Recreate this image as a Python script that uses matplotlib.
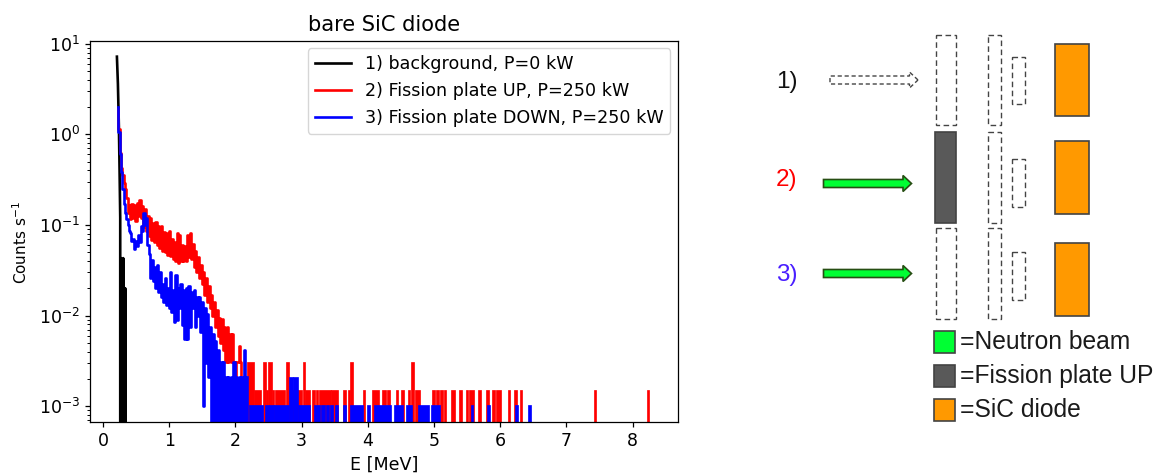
import matplotlib
matplotlib.use("Agg")
import matplotlib.pyplot as plt
from matplotlib.patches import FancyArrow, Rectangle

# Spectra
black_e = [0.21, 0.225, 0.24, 0.25, 0.26, 0.268, 0.272, 0.285, 0.29, 0.30, 0.305, 0.315, 0.32, 0.33, 0.335, 0.345, 0.35]
black_c = [7.2, 3.6, 1.2, 0.4, 0.12, 0, 0.043, 0, 0.04, 0, 0.043, 0, 0.02, 0, 0.02, 0, 0]

red_e = [0.22, 0.24, 0.26, 0.28, 0.30, 0.32, 0.34, 0.36, 0.38, 0.40, 0.42, 0.44, 0.46, 0.48, 0.50, 0.52,
         0.54, 0.56, 0.58, 0.60, 0.62, 0.64, 0.66, 0.68, 0.70, 0.72, 0.74, 0.76, 0.78, 0.80, 0.82, 0.84,
         0.86, 0.88, 0.90, 0.92, 0.94, 0.96, 0.98, 1.00, 1.02, 1.04, 1.06, 1.08, 1.10, 1.12, 1.14, 1.16,
         1.18, 1.20, 1.22, 1.24, 1.26, 1.28, 1.30, 1.32, 1.34, 1.36, 1.38, 1.40, 1.42, 1.44, 1.46, 1.48,
         1.50, 1.52, 1.54, 1.56, 1.58, 1.60, 1.62, 1.64, 1.66, 1.68, 1.70, 1.72, 1.74, 1.76, 1.78, 1.80,
         1.82, 1.84, 1.86, 1.88, 1.90, 1.92, 1.94, 1.96, 1.98, 2.00, 2.02, 2.04, 2.06, 2.08, 2.10, 2.14]
red_c = [1.9, 1.15, 0.62, 0.42, 0.36, 0.29, 0.25, 0.2, 0.135, 0.165, 0.115, 0.172, 0.118, 0.165, 0.11, 0.175,
         0.125, 0.188, 0.12, 0.16, 0.095, 0.15, 0.085, 0.125, 0.075, 0.118, 0.068, 0.105, 0.064, 0.108, 0.06, 0.098,
         0.056, 0.098, 0.052, 0.084, 0.05, 0.082, 0.046, 0.086, 0.045, 0.07, 0.042, 0.064, 0.04, 0.082, 0.038, 0.078,
         0.04, 0.06, 0.04, 0.058, 0.04, 0.078, 0.044, 0.082, 0.042, 0.062, 0.034, 0.052, 0.03, 0.044, 0.026, 0.036,
         0.022, 0.03, 0.017, 0.026, 0.014, 0.021, 0.012, 0.017, 0.01, 0.014, 0.0075, 0.0115, 0.006, 0.0095, 0.005, 0.0092,
         0.0042, 0.0075, 0.0031, 0.0075, 0.0031, 0.0063, 0.0031, 0.0063, 0.0031, 0.0015, 0.0031, 0.0031, 0.0046, 0.0031, 0.0015, 0.0015]

blue_e = [0.22, 0.24, 0.26, 0.28, 0.30, 0.32, 0.34, 0.36, 0.38, 0.40, 0.42, 0.44, 0.46, 0.48, 0.50, 0.52,
          0.54, 0.56, 0.58, 0.60, 0.62, 0.64, 0.66, 0.68, 0.70, 0.72, 0.74, 0.76, 0.78, 0.80, 0.82, 0.84,
          0.86, 0.88, 0.90, 0.92, 0.94, 0.96, 0.98, 1.00, 1.02, 1.04, 1.06, 1.08, 1.10, 1.12, 1.14, 1.16,
          1.18, 1.20, 1.22, 1.24, 1.26, 1.28, 1.30, 1.32, 1.34, 1.36, 1.38, 1.40, 1.42, 1.44, 1.46, 1.48,
          1.50, 1.52, 1.54, 1.56, 1.58, 1.60, 1.62, 1.64, 1.66, 1.68, 1.70, 1.72, 1.74, 1.76, 1.78, 1.80,
          1.82, 1.84, 1.86, 1.88, 1.90, 1.92, 1.94, 1.96, 1.98, 2.00, 2.02, 2.04, 2.06, 2.08, 2.10, 2.12,
          2.14, 2.16, 2.18]
blue_c = [2.0, 1.05, 0.6, 0.38, 0.25, 0.17, 0.135, 0.115, 0.1, 0.085, 0.082, 0.066, 0.07, 0.054, 0.066, 0.058,
          0.078, 0.065, 0.098, 0.085, 0.135, 0.1, 0.12, 0.06, 0.048, 0.026, 0.041, 0.024, 0.034, 0.02, 0.036, 0.018,
          0.03, 0.016, 0.022, 0.014, 0.026, 0.013, 0.02, 0.012, 0.03, 0.011, 0.019, 0.0085, 0.028, 0.009, 0.02, 0.012,
          0.022, 0.0078, 0.019, 0.0055, 0.02, 0.0055, 0.021, 0.0075, 0.018, 0.012, 0.019, 0.0075, 0.016, 0.01, 0.016, 0.0065,
          0.014, 0.001, 0.012, 0.003, 0.0105, 0.0021, 0.0075, 0, 0.0062, 0, 0.0052, 0, 0.0042, 0, 0.0031, 0,
          0.0031, 0, 0.0021, 0, 0.0021, 0, 0.0021, 0, 0.0031, 0, 0.0021, 0, 0.0021, 0, 0.0021, 0,
          0.0042, 0, 0.0021]

# Isolated hits above 2 MeV: start, stop and level of each group of bins
red_tail_start = [2.18, 2.28, 2.41, 2.46, 2.49, 2.55, 2.60, 2.77, 2.81, 2.95, 3.02, 3.05, 3.15, 3.21, 3.26, 3.45,
                  3.63, 3.70, 3.73, 3.92, 4.07, 4.22, 4.29, 4.42, 4.50, 4.60, 4.65, 4.71, 4.97, 5.03, 5.09, 5.15,
                  5.25, 5.38, 5.48, 5.53, 5.67, 5.79, 5.87, 5.94, 6.11, 6.21, 6.30, 7.42, 8.21]
red_tail_stop = [2.28, 2.39, 2.46, 2.49, 2.55, 2.59, 2.75, 2.81, 2.94, 3.01, 3.05, 3.13, 3.20, 3.25, 3.44, 3.55,
                 3.67, 3.73, 3.78, 3.96, 4.17, 4.27, 4.33, 4.45, 4.54, 4.64, 4.69, 4.79, 5.01, 5.07, 5.14, 5.18,
                 5.31, 5.42, 5.51, 5.60, 5.71, 5.83, 5.92, 6.01, 6.15, 6.25, 6.33, 7.45, 8.24]
red_tail_level = [0.0031, 0.0015, 0.0031, 0.0015, 0.0031, 0.0015, 0.0015, 0.0031, 0.0015, 0.0015, 0.0031, 0.0015, 0.0015, 0.0015, 0.0015, 0.0015,
                  0.0015, 0.0015, 0.0031, 0.0015, 0.0015, 0.0015, 0.0015, 0.0015, 0.0015, 0.0015, 0.0031, 0.0015, 0.0015, 0.0015, 0.0015, 0.0015,
                  0.0015, 0.0015, 0.0015, 0.0015, 0.0015, 0.0015, 0.0015, 0.0015, 0.0015, 0.0015, 0.0015, 0.0015, 0.0015]

blue_tail_start = [2.20, 2.45, 2.51, 2.59, 2.81, 2.87, 2.94, 3.18, 3.29, 3.37, 3.43, 3.50, 3.62, 3.73, 3.99, 4.10,
                   4.40, 4.57, 4.75, 4.96, 5.56, 5.80, 6.23, 6.42]
blue_tail_stop = [2.41, 2.50, 2.58, 2.81, 2.87, 2.94, 3.13, 3.28, 3.35, 3.41, 3.48, 3.55, 3.67, 3.92, 4.04, 4.35,
                  4.53, 4.66, 4.92, 5.09, 5.59, 5.84, 6.27, 6.46]
blue_tail_level = [0.00104, 0.00104, 0.00104, 0.00104, 0.0021, 0.0021, 0.00104, 0.00104, 0.00104, 0.00104, 0.00104, 0.00104, 0.00104, 0.00104, 0.00104, 0.00104,
                   0.00104, 0.00104, 0.00104, 0.00104, 0.00104, 0.00104, 0.00104, 0.00104]

LEGEND_LABELS = ["1) background, P=0 kW", "2) Fission plate UP, P=250 kW", "3) Fission plate DOWN, P=250 kW"]
X_TICKS = [0, 1, 2, 3, 4, 5, 6, 7, 8]

# Sketch on the right, in pixels of the picture
ROW_LABELS = ["1)", "2)", "3)"]
ROW_LABEL_COLORS = ["#111111", "#ff0000", "#4a1fff"]
ROW_LABEL_Y = [82, 180, 275]
PLATE_TOPS = [35, 132, 228]
SMALL_TOPS = [57, 159, 252]
DIODE_TOPS = [44, 141, 243]
KEY_LABELS = ["=Neutron beam", "=Fission plate UP", "=SiC diode"]
KEY_COLORS = ["#00ff33", "#595959", "#ff9900"]
KEY_TOPS = [331, 365, 399]


def draw_spectrum(fig):
    ax = fig.add_axes([90.3 / 1156, 1 - 421.5 / 473, 587.4 / 1156, 380.8 / 473])

    ax.plot(black_e, black_c, color="k", label=LEGEND_LABELS[0], zorder=2)
    ax.plot(red_e, red_c, color="r", drawstyle="steps-mid", label=LEGEND_LABELS[1], zorder=2.1)
    ax.plot(blue_e, blue_c, color="b", drawstyle="steps-mid", label=LEGEND_LABELS[2], zorder=2.3)

    # Groups of single-count bins merge into solid blocks
    ax.bar(red_tail_start,
           red_tail_level,
           width=[b - a for a, b in zip(red_tail_start, red_tail_stop)],
           align="edge", color="r", edgecolor="r", linewidth=0.5, zorder=2.2)
    ax.bar(blue_tail_start,
           blue_tail_level,
           width=[b - a for a, b in zip(blue_tail_start, blue_tail_stop)],
           align="edge", color="b", edgecolor="b", linewidth=0.5, zorder=2.4)

    ax.set_yscale("log")
    ax.set_xlim(-0.192, 8.68)
    ax.set_ylim(6.76e-4, 10.8)
    ax.set_xticks(X_TICKS)
    ax.set_xlabel("E [MeV]", fontsize=12.6)
    ax.set_ylabel("Counts s$^{-1}$", fontsize=11)
    ax.yaxis.set_label_coords(-0.1035, 0.471)
    ax.set_title("bare SiC diode", fontsize=15.1, pad=7)
    ax.legend(loc="upper right", fontsize=12.6, labelspacing=0.5, borderpad=0.4,
              handlelength=2.1, handletextpad=0.75, borderaxespad=0.43)


def draw_sketch(fig):
    ax = fig.add_axes([0, 0, 1, 1])
    ax.set_xlim(0, 1156)
    ax.set_ylim(473, 0)
    ax.axis("off")

    dashed = dict(facecolor="white", edgecolor="#444444", linewidth=1.0, linestyle=(0, (4, 2.5)))
    solid = dict(edgecolor="#434343", linewidth=1.2)

    for i in range(3):
        ax.text(776, ROW_LABEL_Y[i], ROW_LABELS[i], color=ROW_LABEL_COLORS[i], fontsize=17.5,
                family="Liberation Sans", va="center", ha="left")

        if i == 1:
            ax.add_patch(Rectangle((935, PLATE_TOPS[i]), 21, 90.5, facecolor="#595959", **solid))
        else:
            ax.add_patch(Rectangle((935.5, PLATE_TOPS[i]), 20, 90.5, **dashed))
        ax.add_patch(Rectangle((987.5, PLATE_TOPS[i]), 13.5, 90.5, **dashed))
        ax.add_patch(Rectangle((1011.5, SMALL_TOPS[i]), 13.5, 47.5, **dashed))
        ax.add_patch(Rectangle((1055, DIODE_TOPS[i]), 33.5, 72.5, facecolor="#ff9900", **solid))

    arrow = dict(width=8, head_width=16, head_length=8.5, length_includes_head=True)
    ax.add_patch(FancyArrow(830, 80, 88, 0, facecolor="white", edgecolor="#444444",
                            linewidth=1.0, linestyle=(0, (3, 2)), **arrow))
    for y in [183.5, 273.5]:
        ax.add_patch(FancyArrow(823.5, y, 88, 0, facecolor="#00ff33", edgecolor="#274e13",
                                linewidth=1.2, **arrow))

    for i in range(3):
        ax.add_patch(Rectangle((934, KEY_TOPS[i]), 21, 21.5, facecolor=KEY_COLORS[i], **solid))
        ax.text(960, KEY_TOPS[i] + 11, KEY_LABELS[i], color="#1a1a1a", fontsize=17.7,
                family="Liberation Sans", va="center", ha="left")


def main():
    plt.rcParams.update({
        "font.size": 12.5,
        "lines.linewidth": 1.9,
        "axes.linewidth": 0.9,
        "xtick.major.size": 3.9,
        "ytick.major.size": 3.9,
        "ytick.minor.size": 2.2,
        "xtick.major.width": 0.9,
        "ytick.major.width": 0.9,
        "ytick.minor.width": 0.7,
    })

    fig = plt.figure(figsize=(11.56, 4.73), dpi=100)
    draw_spectrum(fig)
    draw_sketch(fig)
    fig.savefig("out.png", dpi=100, facecolor="white")
    plt.close(fig)


if __name__ == "__main__":
    main()
